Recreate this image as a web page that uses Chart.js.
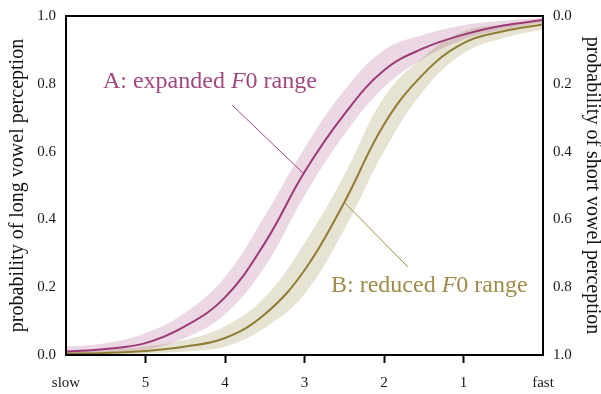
<!DOCTYPE html>
<html>
<head>
<meta charset="utf-8">
<script src="https://cdn.jsdelivr.net/npm/chart.js@4.4.1/dist/chart.umd.min.js"></script>
<style>
  html, body { margin: 0; padding: 0; background: #fff; }
  #wrap { width: 601px; height: 394px; position: relative; }
</style>
</head>
<body>
<div id="wrap"><canvas id="chart"></canvas></div>
<script>
// speech rate steps, 6 = slow ... 0 = fast
const rateSteps = [6, 5.5, 5, 4.5, 4, 3.5, 3, 2.5, 2, 1.5, 1, 0.5, 0];

// A: expanded F0 range
const expandedMean = [0.010, 0.018, 0.035, 0.085, 0.17, 0.33, 0.54, 0.71, 0.84, 0.905, 0.945, 0.972, 0.988];
const expandedLow  = [0.003, 0.007, 0.016, 0.050, 0.12, 0.26, 0.47, 0.65, 0.79, 0.875, 0.930, 0.960, 0.980];
const expandedHigh = [0.025, 0.035, 0.065, 0.125, 0.23, 0.41, 0.61, 0.78, 0.90, 0.945, 0.973, 0.986, 0.995];

// B: reduced F0 range
const reducedMean = [0.004, 0.006, 0.012, 0.025, 0.05, 0.12, 0.25, 0.45, 0.68, 0.83, 0.92, 0.955, 0.975];
const reducedLow  = [0.001, 0.002, 0.004, 0.010, 0.025, 0.08, 0.18, 0.37, 0.60, 0.78, 0.89, 0.935, 0.960];
const reducedHigh = [0.012, 0.016, 0.025, 0.045, 0.085, 0.17, 0.33, 0.53, 0.76, 0.88, 0.955, 0.975, 0.990];

const leftTicks = [0, 0.2, 0.4, 0.6, 0.8, 1.0];

const purple = '#9c3a76';
const purpleBand = 'rgba(155, 58, 118, 0.2)';
const purpleText = '#a0487e';
const olive = '#8e7d34';
const oliveBand = 'rgba(142, 128, 52, 0.22)';
const oliveText = '#9e8c48';
const serif = '"Liberation Serif", "DejaVu Serif", serif';

const toPoints = vals => rateSteps.map((x, i) => ({ x: x, y: vals[i] }));

// labels placed in data coordinates
const notes = [
    { parts: ['A: expanded ', 'F', '0 range'], color: purpleText, tx: 4.19, ty: 0.805, from: [3.91, 0.737], to: [3.02, 0.537] },
    { parts: ['B: reduced ', 'F', '0 range'], color: oliveText, tx: 1.43, ty: 0.205, from: [2.49, 0.448], to: [1.70, 0.26] }
];

const frameAndNotes = {
    id: 'frameAndNotes',
    afterDatasetsDraw(chart) {
        const ctx = chart.ctx;
        const a = chart.chartArea;
        const xs = chart.scales.x, ys = chart.scales.y;
        ctx.save();
        ctx.strokeStyle = '#000';
        ctx.lineWidth = 2;
        ctx.strokeRect(a.left, a.top, a.right - a.left, a.bottom - a.top);

        notes.forEach(n => {
            ctx.strokeStyle = n.color;
            ctx.lineWidth = 1;
            ctx.beginPath();
            ctx.moveTo(xs.getPixelForValue(n.from[0]), ys.getPixelForValue(n.from[1]));
            ctx.lineTo(xs.getPixelForValue(n.to[0]), ys.getPixelForValue(n.to[1]));
            ctx.stroke();

            const fonts = ['24px ' + serif, 'italic 24px ' + serif, '24px ' + serif];
            let widths = n.parts.map((p, i) => { ctx.font = fonts[i]; return ctx.measureText(p).width; });
            let total = widths.reduce((s, w) => s + w, 0);
            let x = xs.getPixelForValue(n.tx) - total / 2;
            const y = ys.getPixelForValue(n.ty);
            ctx.fillStyle = n.color;
            ctx.textBaseline = 'middle';
            ctx.textAlign = 'left';
            n.parts.forEach((p, i) => {
                ctx.font = fonts[i];
                ctx.fillText(p, x, y);
                x += widths[i];
            });
        });
        ctx.restore();
    }
};

const lineStyle = { pointRadius: 0, tension: 0.4 };

// fixed axis box sizes so the plot frame sits where the original does
const fixWidth = w => s => { s.width = w; s.paddingTop = 0; s.paddingBottom = 0; };

new Chart(document.getElementById('chart'), {
    type: 'line',
    data: {
        datasets: [
            { ...lineStyle, data: toPoints(expandedMean), borderColor: purple, borderWidth: 2, fill: false },
            { ...lineStyle, data: toPoints(reducedMean), borderColor: olive, borderWidth: 2, fill: false },
            { ...lineStyle, data: toPoints(expandedHigh), borderWidth: 0, backgroundColor: purpleBand, fill: '+1' },
            { ...lineStyle, data: toPoints(expandedLow), borderWidth: 0, fill: false },
            { ...lineStyle, data: toPoints(reducedHigh), borderWidth: 0, backgroundColor: oliveBand, fill: '+1' },
            { ...lineStyle, data: toPoints(reducedLow), borderWidth: 0, fill: false }
        ]
    },
    options: {
        responsive: true,
        maintainAspectRatio: false,
        animation: false,
        layout: { padding: { top: 16, left: 0, right: 0, bottom: 0 } },
        plugins: {
            legend: { display: false },
            tooltip: { enabled: false },
            filler: { drawTime: 'beforeDatasetsDraw' }
        },
        scales: {
            x: {
                type: 'linear',
                min: 0,
                max: 6,
                reverse: true,
                afterFit: s => { s.height = 39; },
                border: { display: false },
                grid: {
                    drawOnChartArea: false,
                    tickLength: 8,
                    tickWidth: 2,
                    tickColor: c => (c.tick && (c.tick.value === 0 || c.tick.value === 6)) ? 'rgba(0,0,0,0)' : '#000'
                },
                ticks: {
                    stepSize: 1,
                    autoSkip: false,
                    maxRotation: 0,
                    padding: 11,
                    color: '#1a1a1a',
                    font: { family: serif, size: 15 },
                    callback: v => v === 6 ? 'slow' : (v === 0 ? 'fast' : String(v))
                }
            },
            y: {
                position: 'left',
                min: 0,
                max: 1,
                afterFit: fixWidth(66),
                afterBuildTicks: s => { s.ticks = leftTicks.map(v => ({ value: v })); },
                border: { display: false },
                grid: { drawOnChartArea: false, drawTicks: false },
                ticks: {
                    padding: 10,
                    color: '#1a1a1a',
                    font: { family: serif, size: 15 },
                    callback: v => v.toFixed(1)
                },
                title: {
                    display: true,
                    text: 'probability of long vowel perception',
                    color: '#111',
                    font: { family: serif, size: 20 },
                    padding: { top: 6, bottom: 0 }
                }
            },
            y2: {
                position: 'right',
                min: 0,
                max: 1,
                reverse: true,
                afterFit: fixWidth(58),
                afterBuildTicks: s => { s.ticks = leftTicks.map(v => ({ value: v })); },
                border: { display: false },
                grid: { drawOnChartArea: false, drawTicks: false },
                ticks: {
                    padding: 10,
                    color: '#1a1a1a',
                    font: { family: serif, size: 15 },
                    callback: v => v.toFixed(1)
                },
                title: {
                    display: true,
                    text: 'probability of short vowel perception',
                    color: '#111',
                    font: { family: serif, size: 20 },
                    padding: { top: -3, bottom: 0 }
                }
            }
        }
    },
    plugins: [frameAndNotes]
});
</script>
</body>
</html>
